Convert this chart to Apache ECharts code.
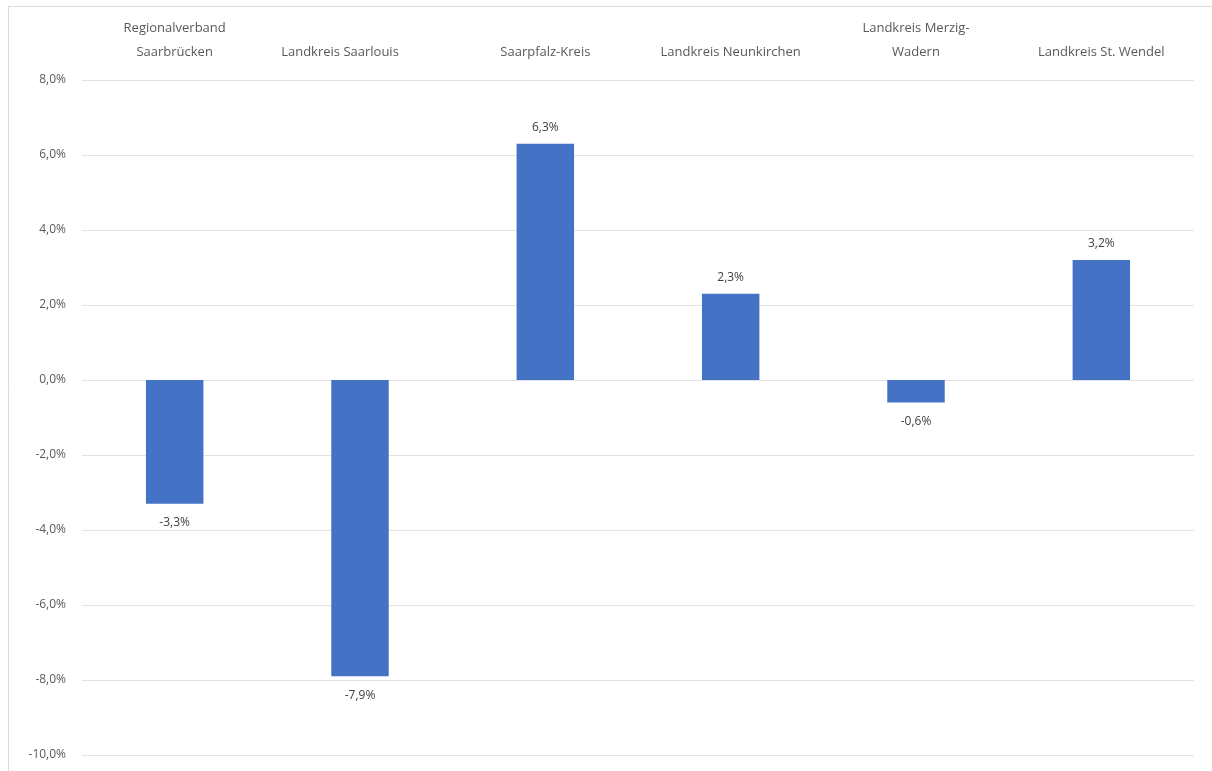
<!DOCTYPE html>
<html>
<head>
<meta charset="utf-8">
<script src="https://cdn.jsdelivr.net/npm/echarts@6/dist/echarts.min.js"></script>
<style>html,body{margin:0;padding:0;background:#fff}#c{width:1212px;height:771px}</style>
</head>
<body>
<div id="c"></div>
<script>
const categories = ["Regionalverband\nSaarbrücken", "Landkreis Saarlouis", "Saarpfalz-Kreis", "Landkreis Neunkirchen", "Landkreis Merzig-\nWadern", "Landkreis St. Wendel"];
const values = [-3.3, -7.9, 6.3, 2.3, -0.6, 3.2];
const yMin = -10, yMax = 8, yStep = 2;

const fmt = v => v.toFixed(1).replace('.', ',') + '%';
const chart = echarts.init(document.getElementById('c'), null, {renderer: 'canvas'});
const font = "'Open Sans', 'Liberation Sans', sans-serif";
const catData = categories.map((c, i) => i === 1 ? {value: c, textStyle: {padding: [0, 40, 0, 0]}} : c);
chart.setOption({
  animation: false,
  graphic: [
    {type: 'line', silent: true, shape: {x1: 8, y1: 6.5, x2: 1212, y2: 6.5}, style: {stroke: '#dcdcdc', lineWidth: 1}},
    {type: 'line', silent: true, shape: {x1: 8.5, y1: 6, x2: 8.5, y2: 771}, style: {stroke: '#dcdcdc', lineWidth: 1}}
  ],
  grid: {left: 82, right: 18, top: 80, bottom: 16},
  xAxis: {
    type: 'category', position: 'top', data: catData,
    axisLine: {show: false}, axisTick: {show: false},
    axisLabel: {color: '#595959', fontSize: 13, fontFamily: font, margin: 16, lineHeight: 24, interval: 0}
  },
  yAxis: {
    type: 'value', min: yMin, max: yMax, interval: yStep,
    axisLine: {show: false}, axisTick: {show: false},
    splitLine: {lineStyle: {color: '#e3e3e3', width: 1}},
    axisLabel: {color: '#595959', fontSize: 12, fontFamily: font, margin: 16, formatter: v => fmt(v)}
  },
  series: [{
    type: 'bar', barWidth: '31%',
    itemStyle: {color: '#4472C4'},
    data: values.map(v => ({value: v, label: {position: v < 0 ? 'bottom' : 'top', distance: v < 0 ? 13 : 10}})),
    label: {show: true, color: '#404040', fontSize: 12, fontFamily: font, formatter: p => fmt(p.value)}
  }]
});
</script>
</body>
</html>
